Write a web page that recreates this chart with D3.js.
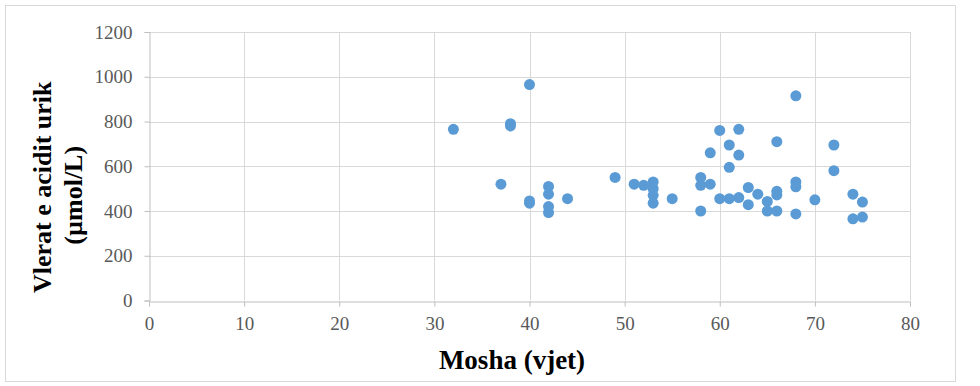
<!DOCTYPE html>
<html>
<head>
<meta charset="utf-8">
<script src="https://cdn.jsdelivr.net/npm/d3@7"></script>
<style>
  body { margin: 0; background: #fff; }
  svg { display: block; }
</style>
</head>
<body>
<div id="chart"></div>
<script>
// Age (years) of each patient
const ages = [32, 37, 38, 38, 40, 40, 40, 42, 42, 42, 42, 44, 49, 51, 52,
  53, 53, 53, 53, 55, 58, 58, 58, 59, 59, 60, 60, 61, 61, 61, 62, 62, 62,
  63, 63, 64, 65, 65, 66, 66, 66, 66, 68, 68, 68, 68, 70, 72, 72, 74, 74, 75, 75];
// Uric acid values (µmol/L), same order as ages
const uricAcid = [765, 520, 790, 780, 965, 445, 435, 510, 475, 420, 393, 455, 550, 520, 515,
  530, 500, 470, 435, 455, 550, 515, 400, 660, 520, 760, 455, 695, 595, 455, 765, 650, 460,
  505, 428, 475, 443, 400, 710, 488, 472, 400, 915, 530, 508, 387, 450, 695, 580, 475, 365, 440, 373];

const xTicks = [0, 10, 20, 30, 40, 50, 60, 70, 80];
const yTicks = [0, 200, 400, 600, 800, 1000, 1200];

const width = 980, height = 386;
const plot = { left: 149, right: 910, top: 32, bottom: 300.5 };
const serif = "'Liberation Serif', 'Times New Roman', serif";

const svg = d3.select("#chart").append("svg")
  .attr("width", width)
  .attr("height", height);

// chart frame
svg.append("rect")
  .attr("x", 5.5).attr("y", 5.5)
  .attr("width", 950).attr("height", 376)
  .attr("fill", "#fff")
  .attr("stroke", "#d9d9d9");

const x = d3.scaleLinear().domain([0, 80]).range([plot.left, plot.right]);
const y = d3.scaleLinear().domain([0, 1200]).range([plot.bottom, plot.top]);

// gridlines
svg.append("g")
  .selectAll("line")
  .data(yTicks.slice(1))
  .join("line")
  .attr("x1", plot.left).attr("x2", plot.right)
  .attr("y1", d => Math.round(y(d)) + 0.5).attr("y2", d => Math.round(y(d)) + 0.5)
  .attr("stroke", "#d9d9d9");

svg.append("g")
  .selectAll("line")
  .data(xTicks.slice(1))
  .join("line")
  .attr("x1", d => Math.round(x(d)) + 0.5).attr("x2", d => Math.round(x(d)) + 0.5)
  .attr("y1", plot.top).attr("y2", plot.bottom)
  .attr("stroke", "#d9d9d9");

// axes
const xAxis = svg.append("g")
  .attr("transform", `translate(0,${Math.round(plot.bottom) + 0.5})`)
  .call(d3.axisBottom(x).tickValues(xTicks).tickFormat(d3.format("d"))
    .tickSizeOuter(0).tickSize(5).tickPadding(10));

const yAxis = svg.append("g")
  .attr("transform", `translate(${Math.round(plot.left) + 0.5},0)`)
  .call(d3.axisLeft(y).tickValues(yTicks).tickFormat(d3.format("d"))
    .tickSizeOuter(0).tickSize(5).tickPadding(12));

[xAxis, yAxis].forEach(g => {
  g.select(".domain").attr("stroke", "#bfbfbf");
  g.selectAll(".tick line").attr("stroke", "#bfbfbf");
  g.selectAll(".tick text")
    .attr("fill", "#595959")
    .style("font-family", serif)
    .style("font-size", "19px");
});

// points
svg.append("g")
  .selectAll("circle")
  .data(ages.map((a, i) => [a, uricAcid[i]]))
  .join("circle")
  .attr("cx", d => x(d[0]))
  .attr("cy", d => y(d[1]))
  .attr("r", 5.5)
  .attr("fill", "#5b9bd5");

// axis titles
svg.append("text")
  .attr("x", 512)
  .attr("y", 369)
  .attr("text-anchor", "middle")
  .style("font-family", serif)
  .style("font-weight", "bold")
  .style("font-size", "27px")
  .text("Mosha (vjet)");

const yTitle = svg.append("text")
  .attr("transform", `translate(0,${(plot.top + plot.bottom) / 2 + 21}) rotate(-90)`)
  .attr("text-anchor", "middle")
  .style("font-family", serif)
  .style("font-weight", "bold")
  .style("font-size", "26px");
yTitle.append("tspan").attr("x", 0).attr("y", 51).text("Vlerat e acidit urik");
yTitle.append("tspan").attr("x", -8).attr("y", 82).text("(µmol/L)");
</script>
</body>
</html>
